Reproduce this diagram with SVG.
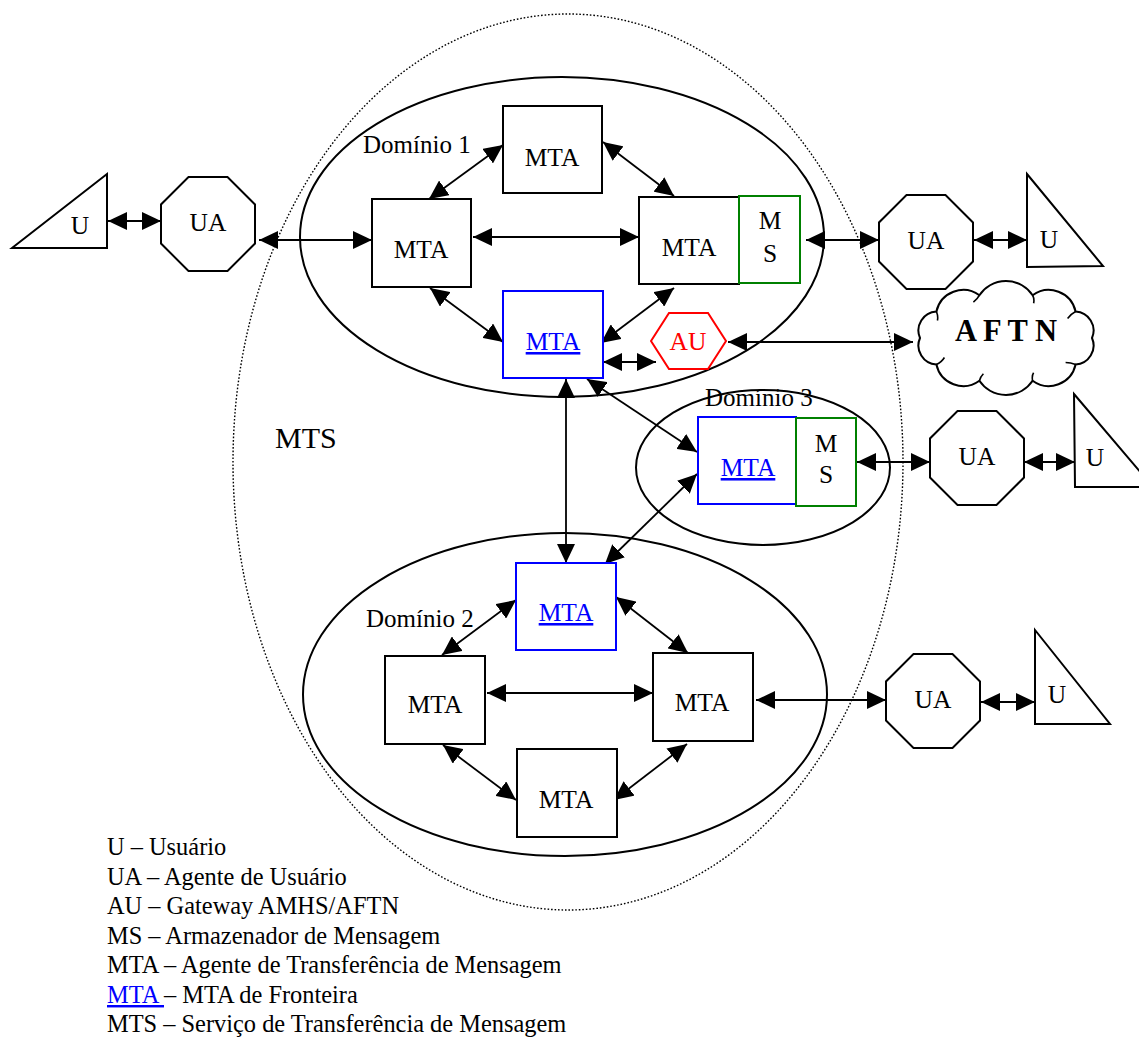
<svg xmlns="http://www.w3.org/2000/svg" width="1139" height="1039" viewBox="0 0 1139 1039">
  <style>
    text { font-family: "Liberation Serif", "Times New Roman", serif; fill: #000; }
    .lbl { font-size: 25.5px; text-anchor: middle; }
    .dom { font-size: 25px; }
    .leg { font-size: 24.4px; }
    .box { fill: #fff; stroke: #000; stroke-width: 2; }
    .bbox { fill: #fff; stroke: #0000ff; stroke-width: 2; }
    .gbox { fill: #fff; stroke: #008000; stroke-width: 2; }
    .blue { fill: #0000ff; text-decoration: underline; }
    .region { fill: none; stroke: #000; stroke-width: 2; }
    .mts { fill: none; stroke: #000; stroke-width: 1.4; stroke-dasharray: 1.6 1.9; }
    .conn line { stroke: #000; stroke-width: 1.8; marker-start: url(#ah); marker-end: url(#ah); }
    .tick { fill: none; stroke: #000; stroke-width: 1.6; }
  </style>
  <defs>
    <marker id="ah" viewBox="0 0 19 18" refX="19" refY="9" markerWidth="19" markerHeight="18" markerUnits="userSpaceOnUse" orient="auto-start-reverse">
      <path d="M0,0 L19,9 L0,18 z" fill="#000"/>
    </marker>
  </defs>

  <rect width="1139" height="1039" fill="#fff"/>

  <!-- service boundary and domains -->
  <g id="regions">
    <ellipse id="mts-boundary" class="mts" cx="568" cy="462" rx="335" ry="448"/>
    <ellipse id="dominio1" class="region" cx="562" cy="237" rx="262" ry="160"/>
    <ellipse id="dominio3" class="region" cx="763" cy="467.5" rx="127" ry="77.5"/>
    <ellipse id="dominio2" class="region" cx="565" cy="694.5" rx="262" ry="161.5"/>
    <text class="dom" x="363" y="153">Domínio 1</text>
    <text class="dom" x="705" y="406">Domínio 3</text>
    <text class="dom" x="366" y="627">Domínio 2</text>
    <text x="275" y="448" style="font-size:30px">MTS</text>
  </g>

  <!-- connectors -->
  <g id="connectors" class="conn">
    <line x1="108" y1="221" x2="161" y2="221"/>
    <line x1="259" y1="240" x2="372" y2="240"/>
    <line x1="429" y1="199" x2="503" y2="145"/>
    <line x1="603" y1="142" x2="674" y2="196"/>
    <line x1="473" y1="237" x2="639" y2="237"/>
    <line x1="430" y1="288" x2="503" y2="342"/>
    <line x1="601" y1="343" x2="674" y2="288"/>
    <line x1="603" y1="362" x2="656" y2="362"/>
    <line x1="728" y1="342" x2="913" y2="342"/>
    <line x1="806" y1="240" x2="879" y2="240"/>
    <line x1="974" y1="240" x2="1027" y2="240"/>
    <line x1="566" y1="379" x2="566" y2="563"/>
    <line x1="587" y1="379" x2="697" y2="452"/>
    <line x1="605" y1="564" x2="697" y2="474"/>
    <line x1="857" y1="462" x2="930" y2="462"/>
    <line x1="1024" y1="462" x2="1075" y2="462"/>
    <line x1="516" y1="600" x2="442" y2="655"/>
    <line x1="616" y1="597" x2="688" y2="653"/>
    <line x1="487" y1="693" x2="653" y2="693"/>
    <line x1="756" y1="700" x2="886" y2="700"/>
    <line x1="981" y1="702" x2="1035" y2="702"/>
    <line x1="443" y1="745" x2="516" y2="800"/>
    <line x1="687" y1="744" x2="614" y2="800"/>
  </g>

  <!-- users -->
  <g id="u-left">
    <polygon class="box" points="12,248 107,174 107,248"/>
    <text class="lbl" x="80" y="234">U</text>
  </g>
  <g id="u-d1">
    <polygon class="box" points="1027,174 1103,266 1027,267"/>
    <text class="lbl" x="1049" y="248">U</text>
  </g>
  <g id="u-d3">
    <polygon class="box" points="1074,394 1153,487 1075,487"/>
    <text class="lbl" x="1095" y="466">U</text>
  </g>
  <g id="u-d2">
    <polygon class="box" points="1035,630 1110,724 1035,724"/>
    <text class="lbl" x="1057" y="703">U</text>
  </g>

  <!-- user agents -->
  <g id="ua-left">
    <polygon class="box" points="188.5,177 227.5,177 255,204.5 255,243.5 227.5,271 188.5,271 161,243.5 161,204.5"/>
    <text class="lbl" x="208" y="231">UA</text>
  </g>
  <g id="ua-d1">
    <polygon class="box" points="906.5,195 945.5,195 973,222.5 973,261.5 945.5,289 906.5,289 879,261.5 879,222.5"/>
    <text class="lbl" x="926" y="249">UA</text>
  </g>
  <g id="ua-d3">
    <polygon class="box" points="957.5,411 996.5,411 1024,438.5 1024,477.5 996.5,505 957.5,505 930,477.5 930,438.5"/>
    <text class="lbl" x="977" y="465">UA</text>
  </g>
  <g id="ua-d2">
    <polygon class="box" points="913.5,654 952.5,654 980,681.5 980,720.5 952.5,748 913.5,748 886,720.5 886,681.5"/>
    <text class="lbl" x="933" y="708">UA</text>
  </g>

  <!-- Domínio 1 -->
  <g id="mta-d1-top">
    <rect class="box" x="503" y="106" width="99" height="87"/>
    <text class="lbl" x="552" y="166">MTA</text>
  </g>
  <g id="mta-d1-left">
    <rect class="box" x="372" y="199" width="99" height="88"/>
    <text class="lbl" x="421" y="258">MTA</text>
  </g>
  <g id="mta-d1-right">
    <rect class="box" x="639" y="197" width="100" height="87"/>
    <text class="lbl" x="689" y="256">MTA</text>
  </g>
  <g id="ms-d1">
    <rect class="gbox" x="739" y="196" width="61" height="87"/>
    <text class="lbl" x="770" y="229">M</text>
    <text class="lbl" x="770" y="262">S</text>
  </g>
  <g id="mta-d1-border">
    <rect class="bbox" x="503" y="291" width="100" height="87"/>
    <text class="lbl blue" x="553" y="350">MTA</text>
  </g>
  <g id="au">
    <polygon points="651,341 669,313 708,313 726,341 708,369 669,369" fill="#fff" stroke="#ff0000" stroke-width="2"/>
    <text class="lbl" x="688" y="350" style="fill:#ff0000">AU</text>
  </g>

  <!-- AFTN network (cloud) -->
  <g id="aftn">
    <path d="M920,338 A19,19 0 0 1 936.4,311.5 A27.5,27.5 0 0 1 979.4,295.2 A32,32 0 0 1 1032.6,295.2 A27.5,27.5 0 0 1 1075.6,311.5 A19,19 0 0 1 1092,338 A19,19 0 0 1 1075.6,364.5 A27.5,27.5 0 0 1 1032.6,380.8 A32,32 0 0 1 979.4,380.8 A27.5,27.5 0 0 1 936.4,364.5 A19,19 0 0 1 920,338 Z" fill="#fff" stroke="#000" stroke-width="2"/>
    <path class="tick" d="M936.4,311.5 q2,5 1,9 M979.4,295.2 q-2,4 -6,7 M1032.6,295.2 q2,4 1,8 M1075.6,311.5 q-4,2 -8,7 M1075.6,364.5 q-5,-2 -10,-2 M1032.6,380.8 q-1,-5 1,-8 M979.4,380.8 q1,-4 4,-7 M936.4,364.5 q5,-2 8,-7"/>
    <text x="1006" y="341" style="font-size:30.5px;font-weight:bold;text-anchor:middle">A F T N</text>
  </g>

  <!-- Domínio 3 -->
  <g id="mta-d3-border">
    <rect class="bbox" x="698" y="417" width="98" height="87"/>
    <text class="lbl blue" x="748" y="476">MTA</text>
  </g>
  <g id="ms-d3">
    <rect class="gbox" x="796" y="418" width="60" height="88"/>
    <text class="lbl" x="826" y="452">M</text>
    <text class="lbl" x="826" y="483">S</text>
  </g>

  <!-- Domínio 2 -->
  <g id="mta-d2-border">
    <rect class="bbox" x="516" y="563" width="100" height="87"/>
    <text class="lbl blue" x="566" y="621">MTA</text>
  </g>
  <g id="mta-d2-left">
    <rect class="box" x="385" y="656" width="100" height="88"/>
    <text class="lbl" x="435" y="713">MTA</text>
  </g>
  <g id="mta-d2-right">
    <rect class="box" x="653" y="653" width="100" height="88"/>
    <text class="lbl" x="702" y="711">MTA</text>
  </g>
  <g id="mta-d2-bottom">
    <rect class="box" x="517" y="749" width="100" height="88"/>
    <text class="lbl" x="566" y="808">MTA</text>
  </g>

  <!-- legend -->
  <g id="legend">
    <text class="leg" x="107" y="855">U – Usuário</text>
    <text class="leg" x="107" y="885">UA – Agente de Usuário</text>
    <text class="leg" x="107" y="914">AU – Gateway AMHS/AFTN</text>
    <text class="leg" x="107" y="944">MS – Armazenador de Mensagem</text>
    <text class="leg" x="107" y="973">MTA – Agente de Transferência de Mensagem</text>
    <text class="leg" x="107" y="1003"><tspan class="blue">MTA </tspan>– MTA de Fronteira</text>
    <text class="leg" x="107" y="1032">MTS – Serviço de Transferência de Mensagem</text>
  </g>
</svg>
